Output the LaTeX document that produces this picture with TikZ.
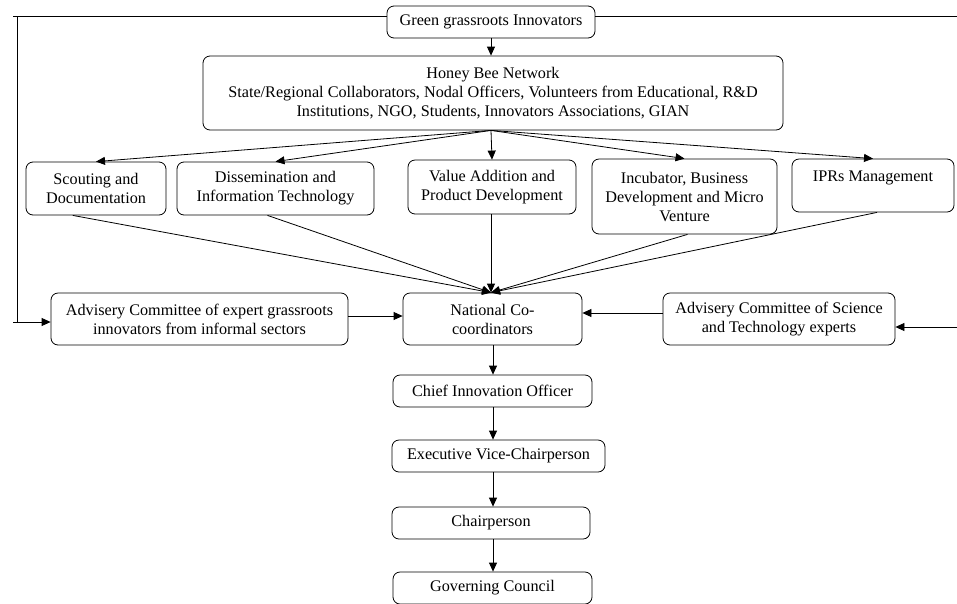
\documentclass[tikz,border=0pt]{standalone}
\usepackage{fontspec}
\setmainfont{Liberation Serif}
\usetikzlibrary{arrows.meta,calc}
\begin{document}
\begin{tikzpicture}[x=1pt,y=-1pt,
  box/.style={draw,rounded corners=7pt,align=center,inner sep=1pt,line width=0.8pt,
    font=\fontsize{16.2}{19}\selectfont},
  arr/.style={-{Triangle[length=9pt,width=8pt]},line width=0.8pt},
  ln/.style={line width=0.8pt}]
\useasboundingbox (0,0) rectangle (957,603);
\node[box,minimum width=208pt,minimum height=32pt] (green) at (491,22) {Green grassroots Innovators};
\node[box,minimum width=580pt,minimum height=74pt] (honey) at (493,93) {Honey Bee Network\\State/Regional Collaborators, Nodal Officers, Volunteers from Educational, R\&D\\Institutions, NGO, Students, Innovators Associations, GIAN};
\node[box,minimum width=140pt,minimum height=53pt] (scout) at (96,188.5) {Scouting and\\Documentation};
\node[box,minimum width=197pt,minimum height=53pt] (dissem) at (275.5,188.5) {Dissemination and\\Information Technology};
\node[box,minimum width=168pt,minimum height=54pt] (value) at (492,187) {Value Addition and\\Product Development};
\node[box,minimum width=185pt,minimum height=75pt] (incub) at (684.5,196.5) {Incubator, Business\\Development and Micro\\Venture};
\node[box,minimum width=162pt,minimum height=53pt] (ipr) at (873,185.5) {IPRs Management\\\mbox{}};
\node[box,minimum width=179pt,minimum height=52pt] (natl) at (492.5,319) {National Co-\\coordinators};
\node[box,minimum width=297pt,minimum height=52pt] (advL) at (199.5,319) {Advisery Committee of expert grassroots\\innovators from informal sectors};
\node[box,minimum width=232pt,minimum height=52pt] (advR) at (779,319) {Advisery Committee of Science\\and Technology experts};
\node[box,minimum width=199pt,minimum height=32pt] (chief) at (492.5,391) {Chief Innovation Officer};
\node[box,minimum width=213pt,minimum height=32pt] (exec) at (498.5,456) {Executive Vice-Chairperson};
\node[box,minimum width=198pt,minimum height=32pt] (chair) at (491,523) {Chairperson};
\node[box,minimum width=199pt,minimum height=32pt] (gov) at (492.5,588) {Governing Council};
\coordinate (tl) at (13,16);
\coordinate (vt) at (17,16);
\coordinate (vb) at (17,322);
\coordinate (lf) at (13,322);
\coordinate (tr) at (957,16);
\coordinate (rf) at (957,327);
\draw[arr] (green.south -| 491,0) -- (honey.north -| 491,0);
\coordinate (hb) at (honey.south -| 491,0);
\foreach \t in {scout,dissem,value,incub,ipr} \draw[arr] (hb) -- (\t.north);
\coordinate (nt) at (natl.north -| 491,0);
\draw[arr] ($(scout.south west)!0.335!(scout.south east)$) -- (nt);
\draw[arr] ([xshift=-8pt]dissem.south) -- (nt);
\draw[arr] (value.south -| 491,0) -- (nt);
\draw[arr] ([xshift=3pt]incub.south) -- (nt);
\draw[arr] ([xshift=4pt]ipr.south) -- (nt);
\draw[arr] ([yshift=3pt]advL.east) -- ([yshift=3pt]natl.west);
\draw[arr] ([yshift=6pt]advR.west) -- ([yshift=6pt]natl.east);
\draw[arr] (rf) -- (rf -| advR.east);
\draw[ln] ([yshift=6pt]green.west) -- (tl);
\draw[ln] ([yshift=6pt]green.east) -- (tr);
\draw[ln] (vt) -- (vb);
\draw[arr] (lf) -- (lf -| advL.west);
\draw[arr] (natl.south -| 493,0) -- (chief.north -| 493,0);
\draw[arr] (chief.south -| 493,0) -- (exec.north -| 493,0);
\draw[arr] (exec.south -| 493,0) -- (chair.north -| 493,0);
\draw[arr] (chair.south -| 493,0) -- (gov.north -| 493,0);
\end{tikzpicture}
\end{document}
